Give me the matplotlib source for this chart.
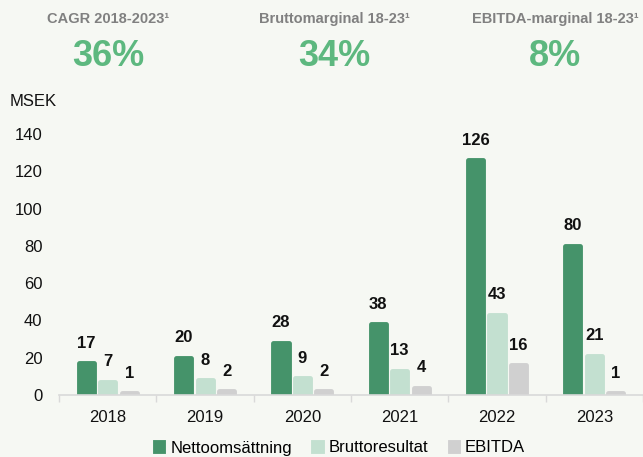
import matplotlib
matplotlib.use("Agg")
import matplotlib.pyplot as plt
import numpy as np

# Data
years = ["2018", "2019", "2020", "2021", "2022", "2023"]
netto = [17, 20, 28, 38, 126, 80]
brutto = [7, 8, 9, 13, 43, 21]
ebitda = [1, 2, 2, 4, 16, 1]
series_names = ["Nettoomsättning", "Bruttoresultat", "EBITDA"]

kpi_titles = ["CAGR 2018-2023\u00b9", "Bruttomarginal 18-23\u00b9", "EBITDA-marginal 18-23\u00b9"]
kpi_values = ["36%", "34%", "8%"]

bg = "#F6F8F3"
colors = ["#45936A", "#C3E0D0", "#D0D0D0"]
plt.rcParams["font.family"] = ["Liberation Sans", "DejaVu Sans"]

fig = plt.figure(figsize=(6.43, 4.57), dpi=100, facecolor=bg)
ax = fig.add_axes([0.092, 0.1357, 0.908, 0.571])
ax.set_facecolor(bg)

x = np.arange(len(years))
w = 0.185
step = 0.22
for i, (vals, c) in enumerate(zip([netto, brutto, ebitda], colors)):
    pos = x + (i - 1) * step
    ax.bar(pos, vals, width=w - 0.03, color=c, edgecolor=c, linewidth=3.5,
           joinstyle="round", label=series_names[i])
    for p, v in zip(pos, vals):
        ax.annotate(str(v), (p, v), xytext=(0, 9), textcoords="offset points",
                    ha="center", va="bottom", fontsize=12, fontweight="bold",
                    color="#111111")

ax.set_xlim(-0.5, len(years) - 0.5)
ax.set_ylim(0, 140)
ax.set_yticks(range(0, 141, 20))
ax.tick_params(axis="y", length=0, pad=12, labelsize=12, labelcolor="#111111")
ax.set_xticks(x)
ax.set_xticklabels(years)
ax.tick_params(axis="x", length=0, pad=11, labelsize=12, labelcolor="#111111")
ax.set_xticks(np.arange(-0.5, len(years), 1), minor=True)
ax.tick_params(axis="x", which="minor", length=5, color="#D9D9D9", width=1)
for s in ["top", "right", "left"]:
    ax.spines[s].set_visible(False)
ax.spines["bottom"].set_color("#D9D9D9")
ax.spines["bottom"].set_linewidth(1.2)

fig.text(10 / 643, 1 - 101 / 457, "MSEK", fontsize=12, color="#111111",
         ha="left", va="center")

kpi_x = [108, 334, 555]
for kx, t, v in zip(kpi_x, kpi_titles, kpi_values):
    fig.text(kx / 643, 1 - 19 / 457, t, fontsize=10.5, fontweight="bold",
             color="#808080", ha="center", va="center")
    fig.text(kx / 643, 1 - 57 / 457, v, fontsize=26, fontweight="bold",
             color="#5DB87F", ha="center", va="center")

leg = fig.legend(loc="center", bbox_to_anchor=(340 / 643, 1 - 448 / 457),
                 ncol=3, frameon=False, fontsize=12, handlelength=0.5,
                 handleheight=0.5, handletextpad=0.4, columnspacing=1.3)

fig.savefig("out.png", dpi=100, facecolor=bg)
